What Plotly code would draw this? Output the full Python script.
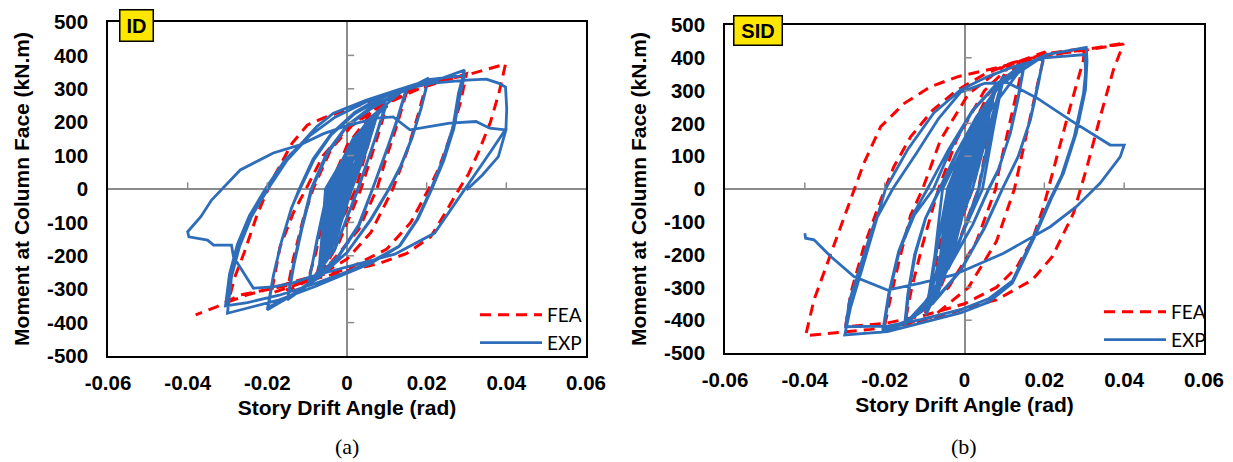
import plotly.graph_objects as go

# ---------------- Panel (a) ID : experiment ----------------
id_exp_drift = [
    0.0, 0.0018, 0.0037,
    0.0021, 0.0002, -0.0018, -0.0037, -0.0025, -0.0015, 0.0011, 0.0037,
    0.0019, -0.0004, -0.0021, -0.0037, -0.0029, -0.0022, 0.0008, 0.0037,
    0.0023, 0.0005, -0.0016, -0.0037, -0.0022, -0.001, 0.0014,
    0.005,
    0.003, 0.0005, -0.0023, -0.005, -0.0034, -0.002, 0.0015, 0.005,
    0.0026, -0.0003, -0.0027, -0.005, -0.0039, -0.003, 0.001, 0.005,
    0.0031, 0.0008, -0.0021, -0.005, -0.003, -0.0013, 0.0019,
    0.0075,
    0.0047, 0.0012, -0.003, -0.0072, -0.005, -0.0032, 0.0022, 0.0075,
    0.0043, 0.0003, -0.0035, -0.0072, -0.0056, -0.0042, 0.0017, 0.0075,
    0.0039, -0.0006, -0.0039, -0.0072, -0.0059, -0.0048, 0.0014, 0.0075,
    0.0035, -0.0015, -0.0044, -0.0072, -0.0053, -0.0037, 0.0019, 0.0075,
    0.0041, 0.0, -0.0036, -0.0072, -0.0044, -0.0021, 0.0027, 0.0075,
    0.0037, -0.001, -0.0041, -0.0072, -0.0062, -0.0054, 0.0011, 0.0075,
    0.0045, 0.0008, -0.0032, -0.0072, -0.0047, -0.0026, 0.0025,
    0.0098,
    0.0065, 0.0027, -0.003, -0.0098,
    -0.0075, -0.0048, 0.0015, 0.0100,
    0.0064, 0.0028, -0.003, -0.0098,
    -0.0074, -0.0047, 0.0017,
    0.006, 0.015,
    0.0125, 0.0095, 0.0065, 0.003, -0.002, -0.008, -0.015,
    -0.0135, -0.0115, -0.009, -0.005, 0.0, 0.006, 0.015,
    0.0124, 0.0094, 0.0064, 0.0029, -0.002, -0.008, -0.0148,
    -0.0133, -0.0113, -0.0088, -0.0048, 0.0, 0.006, 0.012,
    0.0205,
    0.0188, 0.0165, 0.0135, 0.0105, 0.006, 0.0, -0.007, -0.014, -0.020,
    -0.0185, -0.0165, -0.014, -0.012, -0.0085, -0.004, 0.002, 0.01, 0.0202,
    0.0187, 0.0164, 0.0134, 0.0104, 0.006, 0.0, -0.007, -0.014, -0.0198,
    -0.0184, -0.0164, -0.0139, -0.0118, -0.0083, -0.004, 0.002, 0.01, 0.02,
    0.0295,
    0.028, 0.0266, 0.024, 0.021, 0.0175, 0.013, 0.006, 0.0, -0.008, -0.017, -0.025, -0.030,
    -0.029, -0.027, -0.024, -0.020, -0.015, -0.0093, -0.003, 0.005, 0.013, 0.021, 0.0295,
    0.0282, 0.0268, 0.0243, 0.0213, 0.0178, 0.0133, 0.006, 0.0, -0.008, -0.017, -0.025, -0.0305,
    -0.0295, -0.0275, -0.0245, -0.0205, -0.0155, -0.0118, -0.0076, -0.0034, 0.0049, 0.0133,
    0.0216, 0.030, 0.035, 0.038, 0.0398,
    0.0401, 0.0399, 0.036, 0.029, 0.022, 0.012, 0.0, -0.009, -0.0135, -0.0185, -0.0235,
    -0.0285, -0.029, -0.0335, -0.035, -0.0397, -0.040,
    -0.0367, -0.034, -0.0268, -0.0185, -0.0118, -0.006, 0.0, 0.0074, 0.0116, 0.0158,
    0.0258, 0.0324, 0.0358, 0.0399,
    0.038, 0.034, 0.030,
]
id_exp_moment = [
    0, 70, 140,
    70, 0, -105, -175, -88, 0, 84, 140,
    70, 0, -105, -175, -88, 0, 84, 140,
    70, 0, -105, -175, -88, 0, 84,
    175,
    88, 0, -127, -212, -106, 0, 105, 175,
    88, 0, -127, -212, -106, 0, 105, 175,
    88, 0, -127, -212, -106, 0, 105,
    220,
    110, 0, -157, -262, -131, 0, 132, 220,
    110, 0, -157, -262, -131, 0, 132, 220,
    110, 0, -157, -262, -131, 0, 132, 220,
    110, 0, -157, -262, -131, 0, 132, 220,
    110, 0, -157, -262, -131, 0, 132, 220,
    110, 0, -157, -262, -131, 0, 132, 220,
    110, 0, -157, -262, -131, 0, 132,
    258,
    130, 0, -180, -292,
    -150, 0, 150, 256,
    128, 0, -178, -288,
    -148, 0, 148,
    215, 305,
    205, 100, 0, -110, -200, -272, -332,
    -230, -120, 0, 110, 190, 245, 300,
    198, 98, 0, -108, -198, -268, -326,
    -226, -118, 0, 108, 188, 240, 280,
    332,
    250, 160, 70, 0, -90, -190, -265, -320, -362,
    -260, -160, -60, 0, 90, 165, 230, 285, 322,
    245, 155, 65, -3, -92, -190, -262, -318, -355,
    -255, -155, -55, 0, 88, 162, 226, 280, 315,
    356,
    287, 186, 87, -3, -93, -173, -222, -252, -292, -332, -358, -372,
    -263, -173, -83, -3, 87, 160, 215, 262, 298, 328, 340,
    270, 180, 85, 0, -90, -170, -218, -248, -283, -318, -340, -350,
    -255, -165, -80, 0, 88, 132, 187, 227, 266, 299,
    317, 326, 329, 317, 305,
    240, 180, 111, -10, -132, -195, -233, -262, -281, -293, -297,
    -203, -168, -168, -153, -143, -128,
    -83, -33, 57, 108, 132, 165, 190, 212, 216, 177,
    197, 202, 182, 177,
    97, 42, -3,
]

# ---------------- Panel (a) ID : finite element ----------------
id_fea_drift = [
    0.0, 0.0075, 0.0022, -0.0075, -0.0028,
    0.003, 0.01,
    0.0075, 0.0035, -0.002, -0.006, -0.01,
    -0.0078, -0.0058, -0.0045, 0.0, 0.006, 0.015,
    0.0125, 0.0095, 0.0075, 0.003, -0.004, -0.01, -0.015,
    -0.0135, -0.011, -0.0085, -0.004, 0.002, 0.009, 0.02,
    0.0178, 0.015, 0.0115, 0.006, 0.0, -0.0085, -0.019,
    -0.0168, -0.0135, -0.010, -0.006, 0.0, 0.008, 0.018, 0.03,
    0.0285, 0.026, 0.023, 0.0205, 0.016, 0.01, 0.0, -0.0118, -0.0185, -0.025, -0.0298,
    -0.0282, -0.0258, -0.0225, -0.019, -0.0138, -0.010, -0.006, 0.0, 0.01, 0.02, 0.03, 0.0398,
    0.0382, 0.036, 0.033, 0.0305, 0.028, 0.0245, 0.021, 0.015, 0.008, 0.0, -0.01,
    -0.0185, -0.0268, -0.0326, -0.038,
]
id_fea_moment = [
    0, 228, 0, -255, 0,
    160, 250,
    150, 0, -160, -240, -282,
    -190, -80, 0, 130, 225, 292,
    190, 80, 0, -120, -220, -275, -305,
    -210, -90, 0, 120, 200, 255, 318,
    220, 110, 0, -130, -210, -270, -312,
    -173, -72, 7, 100, 180, 245, 300, 345,
    260, 160, 60, 0, -100, -180, -240, -272, -296, -317, -338,
    -265, -190, -75, 22, 137, 191, 212, 238, 280, 315, 341, 374,
    290, 200, 110, 45, -3, -75, -143, -193, -223, -245, -275,
    -298, -317, -352, -377,
]

# ---------------- Panel (b) SID : experiment ----------------
sid_exp_drift = [
    0.0, 0.0018, 0.0037,
    0.0022, 0.0003, -0.0017, -0.0037, -0.0023, -0.0012, 0.0013, 0.0037,
    0.0019, -0.0003, -0.002, -0.0037, -0.0027, -0.0018, 0.001, 0.0037,
    0.0023, 0.0006, -0.0016, -0.0037, -0.0021, -0.0008, 0.0015,
    0.005,
    0.003, 0.0006, -0.0022, -0.005, -0.0032, -0.0018, 0.0016, 0.005,
    0.0027, -0.0002, -0.0026, -0.005, -0.0037, -0.0026, 0.0012, 0.005,
    0.0032, 0.001, -0.002, -0.005, -0.0029, -0.0012, 0.0018,
    0.0075,
    0.0047, 0.0012, -0.0031, -0.0074, -0.0049, -0.0028, 0.0024, 0.0075,
    0.0043, 0.0004, -0.0035, -0.0074, -0.0053, -0.0036, 0.002, 0.0075,
    0.004, -0.0003, -0.0039, -0.0074, -0.0045, -0.0022, 0.0027, 0.0075,
    0.0037, -0.001, -0.0042, -0.0074, -0.0057, -0.0043, 0.0016, 0.0075,
    0.0041, 0.0, -0.0037, -0.0074, -0.0042, -0.0015, 0.003, 0.0075,
    0.0045, 0.0008, -0.0033, -0.0074, -0.0051, -0.0032, 0.0022,
    0.0098,
    0.0068, 0.0035, -0.002, -0.0097,
    -0.0072, -0.0042, 0.002, 0.0099,
    0.0069, 0.0036, -0.0019, -0.0096,
    -0.0071, -0.0041, 0.0022, 0.0098,
    0.0063, 0.002, -0.0039, -0.0097,
    -0.0074, -0.0055, 0.0022, 0.0098,
    0.0074, 0.0045, -0.0026, -0.0097,
    -0.006, -0.003, 0.0034,
    0.015,
    0.0135, 0.0115, 0.0085, 0.006, 0.002, -0.004, -0.01, -0.015,
    -0.0142, -0.0125, -0.0098, -0.0062, -0.002, 0.003, 0.009, 0.0148,
    0.0134, 0.0114, 0.0085, 0.0061, 0.0021, -0.0039, -0.0099, -0.0148,
    -0.014, -0.0123, -0.0097, -0.0061, -0.002, 0.003, 0.009,
    0.0198,
    0.0185, 0.0165, 0.0135, 0.0095, 0.005, -0.001, -0.008, -0.015, -0.0205,
    -0.019, -0.0165, -0.013, -0.0093, -0.004, 0.002, 0.008, 0.014, 0.0198,
    0.0184, 0.0164, 0.0134, 0.0094, 0.005, -0.001, -0.008, -0.015, -0.0203,
    -0.0188, -0.0163, -0.0125, -0.0078, -0.0035, 0.002, 0.008, 0.014, 0.0205,
    0.0305,
    0.0307, 0.0303, 0.028, 0.0248, 0.022, 0.018, 0.012, 0.006, -0.001, -0.011, -0.0193, -0.030,
    -0.0285, -0.0255, -0.0225, -0.0198, -0.0143, -0.0077, -0.001, 0.0057, 0.0123, 0.02, 0.0302,
    0.0303, 0.0298, 0.0275, 0.0243, 0.0215, 0.0175, 0.012, 0.006, -0.001, -0.011, -0.0193, -0.0298,
    -0.0288, -0.026, -0.0225, -0.018, -0.012, -0.0065, -0.001, 0.005, 0.0107,
    0.0182, 0.0265, 0.0365, 0.040,
    0.039, 0.034, 0.028, 0.0215, 0.0098, -0.0027, -0.011, -0.0193,
    -0.0277, -0.0335, -0.0377, -0.0398, -0.040,
]
sid_exp_moment = [
    0, 75, 150,
    75, 0, -111, -185, -93, 0, 90, 150,
    75, 0, -111, -185, -93, 0, 90, 150,
    75, 0, -111, -185, -93, 0, 90,
    200,
    100, 0, -144, -240, -120, 0, 120, 200,
    100, 0, -144, -240, -120, 0, 120, 200,
    100, 0, -144, -240, -120, 0, 130,
    295,
    148, 0, -204, -340, -170, 0, 177, 295,
    148, 0, -204, -340, -170, 0, 177, 295,
    148, 0, -204, -340, -170, 0, 177, 295,
    148, 0, -204, -340, -170, 0, 177, 295,
    148, 0, -204, -340, -170, 0, 177, 295,
    148, 0, -204, -340, -170, 0, 177,
    345,
    195, 0, -185, -385,
    -200, 0, 190, 342,
    193, 0, -182, -380,
    -198, 0, 192, 345,
    195, 0, -190, -385,
    -200, 0, 190, 345,
    195, 0, -190, -385,
    -200, 0, 190,
    380,
    280, 170, 60, 0, -110, -240, -350, -415,
    -320, -200, -90, 0, 110, 220, 320, 375,
    278, 168, 58, 0, -108, -236, -345, -410,
    -318, -198, -88, 0, 108, 218, 318,
    405,
    320, 210, 100, 0, -120, -250, -350, -410, -435,
    -320, -190, -80, 0, 120, 240, 320, 375, 400,
    318, 208, 98, -2, -118, -248, -346, -405, -430,
    -318, -188, -78, 0, 120, 238, 318, 372, 410,
    432,
    390, 302, 170, 48, -23, -135, -287, -345, -378, -409, -435, -445,
    -359, -237, -110, 0, 119, 232, 302, 342, 373, 400, 410,
    350, 290, 160, 40, -30, -140, -280, -335, -368, -398, -418, -420,
    -340, -230, -100, 0, 110, 215, 295, 322, 325,
    277, 210, 134, 134,
    98, 18, -54, -115, -196, -262, -287, -308,
    -267, -206, -155, -150, -135,
]

# ---------------- Panel (b) SID : finite element ----------------
sid_fea_drift = [
    0.0, 0.0075, 0.002, -0.0075, -0.0024,
    0.003, 0.01,
    0.0078, 0.0055, 0.0035, -0.002, -0.006, -0.0098,
    -0.0078, -0.0055, -0.004, 0.0, 0.006, 0.015,
    0.0132, 0.0108, 0.0085, 0.0078, 0.003, -0.004, -0.015,
    -0.0132, -0.0105, -0.0075, -0.0065, -0.002, 0.005, 0.012, 0.0202,
    0.0185, 0.0165, 0.0142, 0.0125, 0.008, 0.001, -0.008, -0.0202,
    -0.0185, -0.0162, -0.0135, -0.0105, -0.006, 0.001, 0.01, 0.02, 0.030,
    0.0298, 0.0265, 0.0232, 0.021, 0.0198, 0.017, 0.013, 0.008, 0.0, -0.01, -0.02, -0.0298,
    -0.0285, -0.0252, -0.021, -0.0177, -0.0135, -0.008, -0.002, 0.005, 0.012, 0.02, 0.0307, 0.0398,
    0.0373, 0.034, 0.0307, 0.0273, 0.024, 0.022, 0.017, 0.008, 0.0, -0.011, -0.0235, -0.031, -0.0398,
    -0.0377, -0.0335, -0.0293, -0.0252, -0.021, -0.015, -0.0085, -0.0018, 0.0057, 0.015, 0.025,
    0.0307, 0.0398,
]
sid_fea_moment = [
    0, 292, 0, -325, 0,
    190, 350,
    250, 130, 0, -180, -300, -378,
    -260, -130, 0, 140, 290, 398,
    300, 170, 50, 0, -160, -300, -412,
    -300, -170, -40, 0, 150, 300, 382, 418,
    330, 220, 100, 0, -160, -300, -390, -428,
    -330, -210, -80, 0, 150, 290, 375, 412, 428,
    393, 251, 98, 0, -54, -155, -240, -300, -350, -385, -410, -420,
    -318, -176, -34, 68, 159, 240, 300, 350, 385, 408, 424, 442,
    363, 220, 68, -74, -155, -206, -277, -338, -365, -405, -428, -437, -447,
    -338, -196, -54, 79, 190, 262, 312, 342, 363, 390, 415,
    426, 444,
]

# ---------------- Axes ----------------
x_ticks = [-0.06, -0.04, -0.02, 0, 0.02, 0.04, 0.06]
x_tick_text = ["-0.06", "-0.04", "-0.02", "0", "0.02", "0.04", "0.06"]
y_ticks = [-500, -400, -300, -200, -100, 0, 100, 200, 300, 400, 500]
y_tick_text = ["-500", "-400", "-300", "-200", "-100", "0", "100", "200", "300", "400", "500"]
panel_labels = ["ID", "SID"]
caption_labels = ["(a)", "(b)"]

BLUE = "#2E6DB9"
RED = "#FF0000"
GRAY = "#8C8C8C"
SANS = "Liberation Sans, Arial, sans-serif"

# page body has an 8px margin; the figure is laid out in page pixels minus that offset
OFF = 8
W, H = 1233 - OFF, 462 - OFF


def px(v):
    return (v - OFF) / W


def py(v):
    return 1 - (v - OFF) / H


fig = go.Figure()
panels = [
    ("x", "y", "legend", id_exp_drift, id_exp_moment, id_fea_drift, id_fea_moment),
    ("x2", "y2", "legend2", sid_exp_drift, sid_exp_moment, sid_fea_drift, sid_fea_moment),
]
for xr, yr, lg, ex, ey, fx, fy in panels:
    # FEA first (legend order, drawn underneath), EXP drawn on top
    fig.add_trace(go.Scatter(x=fx, y=fy, mode="lines", name="FEA", xaxis=xr, yaxis=yr,
                             legend=lg, line=dict(color=RED, width=3, dash="11px,7px")))
    fig.add_trace(go.Scatter(x=ex, y=ey, mode="lines", name="EXP", xaxis=xr, yaxis=yr,
                             legend=lg, line=dict(color=BLUE, width=2.8)))

tickfont = dict(family=SANS, size=20.5, color="black", weight="bold")
titlefont = dict(family=SANS, size=21, color="black", weight="bold")


def xaxis(domain, anchor):
    return dict(domain=domain, anchor=anchor, range=[-0.06, 0.06], tickmode="array",
                tickvals=x_ticks, ticktext=x_tick_text, showgrid=False, zeroline=True,
                zerolinecolor=GRAY, zerolinewidth=1.5, showline=True, mirror=True,
                linecolor="black", linewidth=1.5, ticks="", tickfont=tickfont,
                ticklabelstandoff=8, automargin=False,
                title=dict(text="Story Drift Angle (rad)", font=titlefont, standoff=7))


def yaxis(domain, anchor):
    return dict(domain=domain, anchor=anchor, range=[-500, 500], tickmode="array",
                tickvals=y_ticks, ticktext=y_tick_text, showgrid=False, zeroline=True,
                zerolinecolor=GRAY, zerolinewidth=1.5, showline=True, mirror=True,
                linecolor="black", linewidth=1.5, ticks="", tickfont=tickfont,
                ticklabelstandoff=14, automargin=False,
                title=dict(text="Moment at Column Face (kN.m)", font=titlefont, standoff=12))


legend_font = dict(family="Lato, Noto Sans, sans-serif", size=19, color="black")
fig.update_layout(
    width=W, height=H, margin=dict(l=0, r=0, t=0, b=0),
    paper_bgcolor="white", plot_bgcolor="white",
    xaxis=xaxis([px(108), px(586)], "y"),
    yaxis=yaxis([py(356), py(22)], "x"),
    xaxis2=xaxis([px(725), px(1204)], "y2"),
    yaxis2=yaxis([py(353), py(25)], "x2"),
    legend=dict(x=px(475), y=py(296), xanchor="left", yanchor="top",
                traceorder="normal", bgcolor="rgba(0,0,0,0)", itemwidth=62,
                font=legend_font, tracegroupgap=0),
    legend2=dict(x=px(1099), y=py(293), xanchor="left", yanchor="top",
                 traceorder="normal", bgcolor="rgba(0,0,0,0)", itemwidth=62,
                 font=legend_font, tracegroupgap=0),
    showlegend=True,
)

# small tick marks on the zero lines (axes cross at the origin)
shapes = []
for xr, yr in (("x", "y"), ("x2", "y2")):
    for v in x_ticks:
        if v not in (0, x_ticks[0], x_ticks[-1]):
            shapes.append(dict(type="line", xref=xr, yref=yr, x0=v, x1=v, y0=0, y1=20,
                               line=dict(color=GRAY, width=1.5)))
    for v in y_ticks:
        if v not in (0, y_ticks[0], y_ticks[-1]):
            shapes.append(dict(type="line", xref=xr, yref=yr, x0=0, x1=0.0018, y0=v, y1=v,
                               line=dict(color=GRAY, width=1.5)))
fig.update_layout(shapes=shapes)

annotations = [
    dict(text="<b>" + panel_labels[0] + "</b>", x=px(136.5), y=py(25.5), xref="paper", yref="paper",
         showarrow=False, xanchor="center", yanchor="middle", bgcolor="#FFE600",
         bordercolor="black", borderwidth=1.5, borderpad=3, width=26, height=24,
         font=dict(family=SANS, size=20, color="black")),
    dict(text="<b>" + panel_labels[1] + "</b>", x=px(758), y=py(30.5), xref="paper", yref="paper",
         showarrow=False, xanchor="center", yanchor="middle", bgcolor="#FFE600",
         bordercolor="black", borderwidth=1.5, borderpad=3, width=41, height=22,
         font=dict(family=SANS, size=20, color="black")),
    dict(text=caption_labels[0], x=px(347), y=py(446), xref="paper", yref="paper",
         showarrow=False, xanchor="center", yanchor="middle",
         font=dict(family="Liberation Serif, Times New Roman, serif", size=22, color="black")),
    dict(text=caption_labels[1], x=px(964), y=py(446), xref="paper", yref="paper",
         showarrow=False, xanchor="center", yanchor="middle",
         font=dict(family="Liberation Serif, Times New Roman, serif", size=22, color="black")),
]
fig.update_layout(annotations=annotations)

fig.write_html("out.html")
